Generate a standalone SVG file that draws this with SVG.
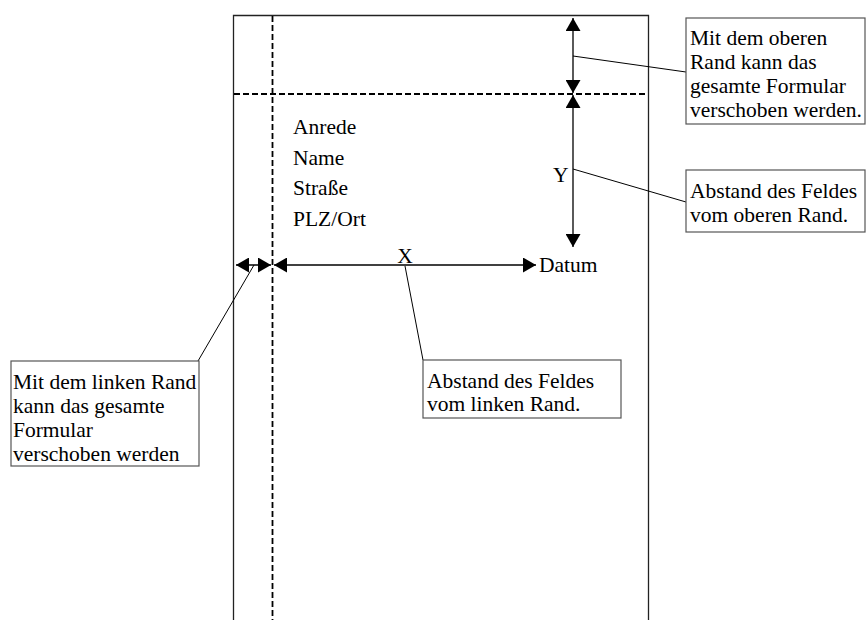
<svg xmlns="http://www.w3.org/2000/svg" width="866" height="620" viewBox="0 0 866 620">
  <style>
    text { font-family: "Liberation Serif", "Times New Roman", serif; font-size: 21.5px; fill: #000; }
    .page { fill: none; stroke: #222; stroke-width: 1.3; }
    .dash { fill: none; stroke: #000; stroke-width: 1.8; stroke-dasharray: 6 3; }
    .dim { fill: none; stroke: #000; stroke-width: 1.3; }
    .call { fill: none; stroke: #000; stroke-width: 1; }
    .box { fill: #fff; stroke: #555; stroke-width: 1.2; }
  </style>
  <defs>
    <marker id="ah" markerUnits="userSpaceOnUse" markerWidth="14" markerHeight="15" refX="13" refY="7.5" orient="auto-start-reverse">
      <path d="M0,0 L13,7.5 L0,15 Z" fill="#000"/>
    </marker>
  </defs>

  <g id="page">
    <path class="page" d="M233.5,620 V15.5 H648.5 V620"/>
    <line class="dash" x1="272.5" y1="16" x2="272.5" y2="620"/>
    <line class="dash" x1="234" y1="94" x2="648" y2="94"/>
  </g>

  <g id="fields">
    <text x="293" y="134">Anrede</text>
    <text x="293" y="165">Name</text>
    <text x="293" y="195">Straße</text>
    <text x="293" y="226">PLZ/Ort</text>
    <text x="539" y="272">Datum</text>
    <text x="553" y="182">Y</text>
    <text x="405" y="263" text-anchor="middle">X</text>
  </g>

  <g id="connectors">
    <line class="dim" x1="573" y1="18" x2="573" y2="93" marker-start="url(#ah)" marker-end="url(#ah)"/>
    <line class="dim" x1="573" y1="95" x2="573" y2="247" marker-start="url(#ah)" marker-end="url(#ah)"/>
    <line class="dim" x1="236" y1="265" x2="271" y2="265" marker-start="url(#ah)" marker-end="url(#ah)"/>
    <line class="dim" x1="274" y1="265" x2="536" y2="265" marker-start="url(#ah)" marker-end="url(#ah)"/>
    <line class="call" x1="573" y1="56" x2="686" y2="72"/>
    <line class="call" x1="573" y1="169" x2="686" y2="202"/>
    <line class="call" x1="254" y1="265" x2="198" y2="361"/>
    <line class="call" x1="405" y1="266" x2="423" y2="360"/>
  </g>

  <g id="note-top">
    <rect class="box" x="686" y="18" width="179" height="106"/>
    <text x="690" y="45">Mit dem oberen</text>
    <text x="690" y="69">Rand kann das</text>
    <text x="690" y="93">gesamte Formular</text>
    <text x="690" y="117">verschoben werden.</text>
  </g>

  <g id="note-y">
    <rect class="box" x="686" y="170" width="179" height="62"/>
    <text x="690" y="198">Abstand des Feldes</text>
    <text x="690" y="222">vom oberen Rand.</text>
  </g>

  <g id="note-left">
    <rect class="box" x="11" y="361" width="188" height="105"/>
    <text x="13" y="389">Mit dem linken Rand</text>
    <text x="13" y="413">kann das gesamte</text>
    <text x="13" y="437">Formular</text>
    <text x="13" y="461">verschoben werden</text>
  </g>

  <g id="note-x">
    <rect class="box" x="423" y="360" width="198" height="58"/>
    <text x="427" y="388">Abstand des Feldes</text>
    <text x="427" y="411">vom linken Rand.</text>
  </g>
</svg>
